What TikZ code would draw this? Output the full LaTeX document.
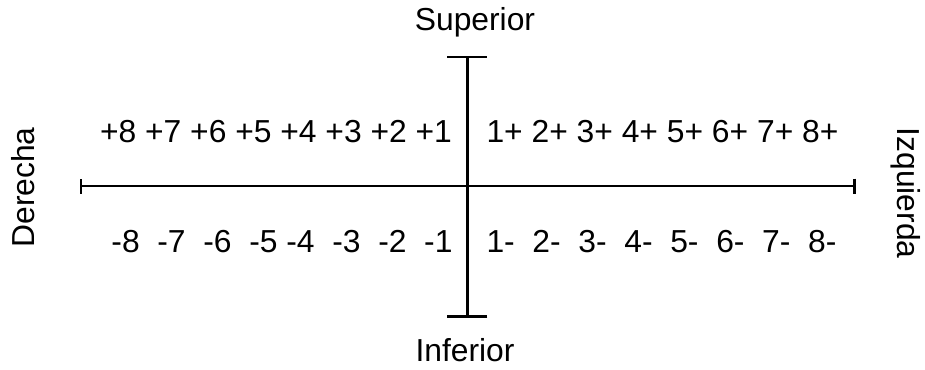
\documentclass[tikz,border=0pt]{standalone}
\usepackage{fontspec}
\setmainfont{Liberation Sans}
\usepackage{tikz}
\usetikzlibrary{arrows.meta}

\begin{document}
\begin{tikzpicture}[line width=1.2pt, every node/.style={inner sep=0pt, font=\fontsize{18.1}{21}\selectfont}]
	\useasboundingbox (-9.35,-3.66) rectangle (9.15,3.72);
	% ejes con topes
	\coordinate (der) at (-7.75,0);
	\coordinate (izq) at (7.76,0);
	\coordinate (sup) at (0,2.61);
	\coordinate (inf) at (0,-2.63);
	\draw[{Bar[width=0.3cm]}-{Bar[width=0.3cm]}] (der) -- (izq);
	\draw[{Bar[width=0.8cm]}-{Bar[width=0.8cm]}] (inf) -- (sup);
	
	% nombres de los lados
	\node[anchor=base] (superior) at (0.15,3.12) {Superior};
	\node[anchor=base] (inferior) at (-0.05,-3.5) {Inferior};
	\node[rotate=90, anchor=base] (derecha) at (-8.65,-0.03) {Derecha};
	\node[rotate=-90, anchor=base] (izquierda) at (8.6,-0.14) {Izquierda};
	
	% cuadrantes
	\node[anchor=base] (supder) at (-3.83,0.87) {+8 +7 +6 +5 +4 +3 +2 +1};
	\node[anchor=base] (infder) at (-3.71,-1.334) {-8\ \ -7\ \ -6\ \ -5 -4\ \ -3\ \ -2\ \ -1};
	\node[anchor=base] (supizq) at (3.9,0.87) {1+ 2+ 3+ 4+ 5+ 6+ 7+ 8+};
	\node[anchor=base] (infizq) at (3.88,-1.334) {1-\ \ 2-\ \ 3-\ \ 4-\ \ 5-\ \ 6-\ \ 7-\ \ 8-};
\end{tikzpicture}
\end{document}
